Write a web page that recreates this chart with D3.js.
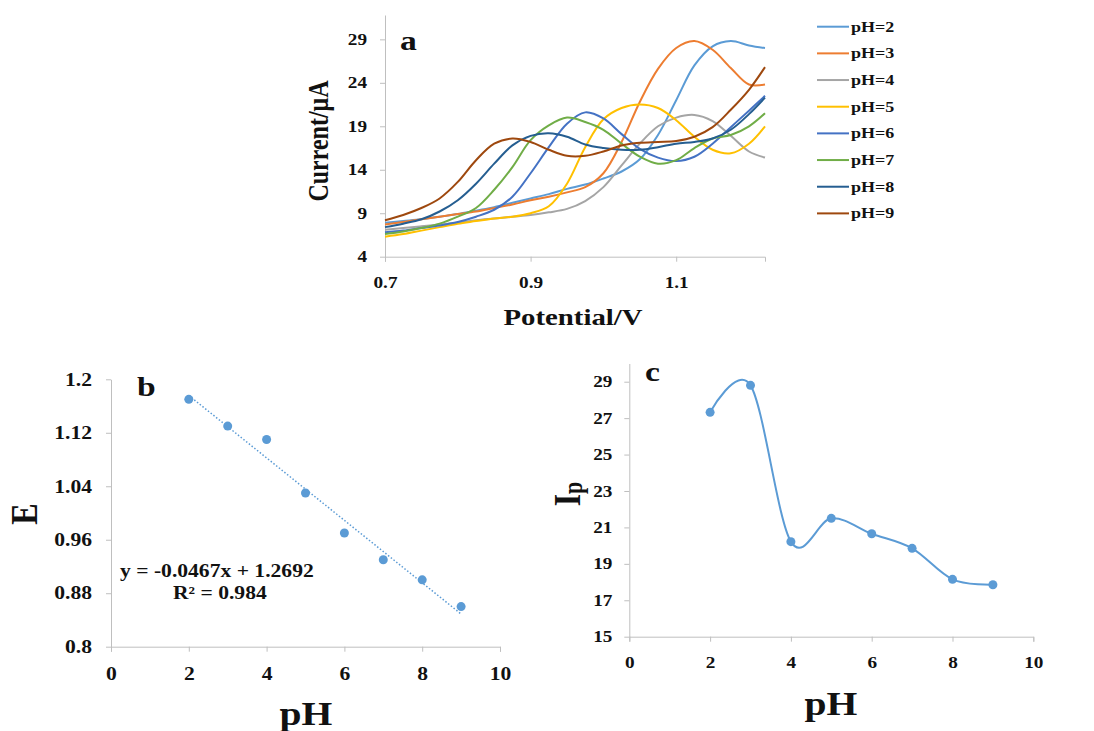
<!DOCTYPE html>
<html>
<head>
<meta charset="utf-8">
<script src="https://cdn.jsdelivr.net/npm/d3@7"></script>
<style>
  html, body { margin: 0; padding: 0; background: #fff; }
  svg { display: block; }
</style>
</head>
<body>
<svg id="fig" width="1094" height="731"></svg>
<script>
// ---- (a) differential pulse voltammograms at several pH values ----
const potential = [0.700, 0.725, 0.750, 0.775, 0.800, 0.825, 0.850, 0.875, 0.900, 0.925, 0.950,
                   0.975, 1.000, 1.025, 1.050, 1.075, 1.100, 1.125, 1.150, 1.175, 1.200, 1.222];
const currentPH2 = [7.9, 8.1, 8.3, 8.6, 8.9, 9.3, 9.7, 10.2, 10.7, 11.2, 11.8, 12.3, 13.0, 13.8, 15.2, 18.0, 22.0, 26.0, 28.2, 28.8, 28.3, 28.0];
const currentPH3 = [7.7, 8.0, 8.3, 8.6, 8.9, 9.2, 9.6, 10.0, 10.5, 10.9, 11.4, 12.0, 13.6, 17.2, 21.8, 25.6, 28.0, 28.8, 27.8, 25.7, 23.8, 23.8];
const currentPH4 = [7.1, 7.3, 7.5, 7.7, 7.9, 8.2, 8.4, 8.6, 8.8, 9.1, 9.5, 10.4, 12.0, 14.5, 17.0, 19.0, 20.0, 20.3, 19.6, 17.9, 16.1, 15.4];
const currentPH5 = [6.3, 6.6, 7.0, 7.4, 7.8, 8.1, 8.4, 8.6, 9.0, 9.8, 12.4, 16.6, 19.8, 21.1, 21.5, 21.1, 19.7, 17.8, 16.3, 15.9, 17.0, 19.0];
const currentPH6 = [6.8, 7.0, 7.3, 7.6, 8.0, 8.6, 9.4, 10.9, 13.6, 16.6, 19.3, 20.6, 19.9, 18.1, 16.4, 15.4, 15.0, 15.5, 17.0, 18.9, 20.8, 22.5];
const currentPH7 = [6.6, 6.9, 7.3, 7.8, 8.6, 9.6, 11.7, 14.3, 17.4, 19.1, 20.0, 19.5, 18.6, 17.0, 15.5, 14.7, 15.1, 16.5, 17.6, 18.0, 19.0, 20.5];
const currentPH8 = [7.4, 7.8, 8.3, 9.2, 10.5, 12.4, 14.7, 16.8, 17.9, 18.2, 17.8, 16.9, 16.5, 16.3, 16.3, 16.6, 17.0, 17.2, 17.6, 18.6, 20.4, 22.3];
const currentPH9 = [8.2, 8.8, 9.6, 10.7, 12.6, 15.1, 17.0, 17.6, 17.2, 16.3, 15.6, 15.6, 16.1, 16.8, 17.1, 17.2, 17.3, 17.8, 18.9, 20.9, 23.2, 25.8];
const seriesNames = ["pH=2", "pH=3", "pH=4", "pH=5", "pH=6", "pH=7", "pH=8", "pH=9"];
const seriesColors = ["#5B9BD5", "#ED7D31", "#A5A5A5", "#FFC000", "#4472C4", "#70AD47", "#255E91", "#9E480E"];
const potentialTicks = [0.7, 0.9, 1.1];
const currentTicks = [4, 9, 14, 19, 24, 29];

// ---- (b) peak potential vs pH with linear fit ----
const phValues = [2, 3, 4, 5, 6, 7, 8, 9];
const peakPotential = [1.170, 1.130, 1.110, 1.030, 0.970, 0.930, 0.900, 0.860];
const fitSlope = -0.0467;
const fitIntercept = 1.2692;
const fitR2 = 0.984;
const eTicks = [0.8, 0.88, 0.96, 1.04, 1.12, 1.2];
const eTickLabels = ["0.8", "0.88", "0.96", "1.04", "1.12", "1.2"];
const phTicks = [0, 2, 4, 6, 8, 10];

// ---- (c) peak current vs pH ----
const peakCurrent = [27.32, 28.8, 20.22, 21.5, 20.65, 19.85, 18.15, 17.85];
const ipTicks = [15, 17, 19, 21, 23, 25, 27, 29];

const currentSeries = [currentPH2, currentPH3, currentPH4, currentPH5, currentPH6, currentPH7, currentPH8, currentPH9];

const SX = 1.2;               // horizontal stretch of the lettering
const FONT = "'Liberation Serif', 'Times New Roman', serif";
const AXIS = "#bfbfbf";
const INK = "#111";

const svg = d3.select("#fig");
svg.append("rect").attr("width", 1094).attr("height", 731).attr("fill", "#fff");

function label(x, y, str, size, anchor, rotate) {
  const t = svg.append("text")
    .attr("transform", `translate(${x},${y}) scale(${SX},1)` + (rotate ? " rotate(-90)" : ""))
    .attr("font-family", FONT).attr("font-weight", "bold")
    .attr("font-size", size).attr("fill", INK)
    .attr("text-anchor", anchor || "start");
  if (str !== null) t.text(str);
  return t;
}

function styleAxis(g, size) {
  g.attr("color", AXIS).attr("font-family", FONT).attr("font-size", size).attr("font-weight", "bold");
  g.selectAll("path.domain, .tick line").attr("stroke", AXIS).attr("stroke-width", 1);
  g.selectAll(".tick text").attr("fill", INK).each(function () {
    const t = d3.select(this);
    const x = +(t.attr("x") || 0);
    t.attr("x", x / SX).attr("transform", `scale(${SX},1)`);
  });
}

// ================= panel a =================
{
  const x = d3.scaleLinear().domain([0.7, 1.222]).range([385, 765]);
  const y = d3.scaleLinear().domain([4, 31.8]).range([256.7, 15]);

  const gx = svg.append("g").attr("transform", `translate(0,${y(4)})`)
    .call(d3.axisBottom(x).tickValues(potentialTicks).tickFormat(d3.format(".1f"))
      .tickSize(5).tickSizeOuter(5).tickPadding(15));
  styleAxis(gx, 16);
  const gy = svg.append("g").attr("transform", `translate(${x(0.7)},0)`)
    .call(d3.axisLeft(y).tickValues(currentTicks).tickSize(5).tickSizeOuter(0).tickPadding(13));
  styleAxis(gy, 16);

  const line = d3.line()
    .x((d, i) => x(potential[i]))
    .y(d => y(d))
    .curve(d3.curveCatmullRom.alpha(0.5));

  svg.append("g").selectAll("path")
    .data(currentSeries)
    .join("path")
    .attr("d", line)
    .attr("fill", "none")
    .attr("stroke", (d, i) => seriesColors[i])
    .attr("stroke-width", 2);

  // legend
  const lg = svg.append("g");
  seriesNames.forEach((name, i) => {
    const cy = 26.7 + i * 26.67;
    lg.append("line").attr("x1", 817).attr("x2", 849).attr("y1", cy).attr("y2", cy)
      .attr("stroke", seriesColors[i]).attr("stroke-width", 2);
    label(851, cy + 5, name, 15, "start");
  });

  label(400, 50, "a", 28, "start");
  label(328, 141, "Current/μA", 24, "middle", true);
  label(573, 325, "Potential/V", 24, "middle");
}

// ================= panel b =================
{
  const x = d3.scaleLinear().domain([0, 10]).range([111, 500]);
  const y = d3.scaleLinear().domain([0.8, 1.2]).range([646.7, 379.3]);

  const gx = svg.append("g").attr("transform", `translate(0,${y(0.8)})`)
    .call(d3.axisBottom(x).tickValues(phTicks).tickSize(5).tickSizeOuter(5).tickPadding(15.5));
  styleAxis(gx, 18);
  const gy = svg.append("g").attr("transform", `translate(${x(0)},0)`)
    .call(d3.axisLeft(y).tickValues(eTicks).tickFormat((d, i) => eTickLabels[i])
      .tickSize(5).tickSizeOuter(0).tickPadding(14));
  styleAxis(gy, 18);

  // linear trendline E = slope * pH + intercept over the measured range
  const x0 = d3.min(phValues), x1 = d3.max(phValues);
  svg.append("line")
    .attr("x1", x(x0)).attr("y1", y(fitSlope * x0 + fitIntercept))
    .attr("x2", x(x1)).attr("y2", y(fitSlope * x1 + fitIntercept))
    .attr("stroke", "#5B9BD5").attr("stroke-width", 1.5)
    .attr("stroke-dasharray", "1.5,2");

  svg.append("g").selectAll("circle")
    .data(peakPotential)
    .join("circle")
    .attr("cx", (d, i) => x(phValues[i]))
    .attr("cy", d => y(d))
    .attr("r", 4.5)
    .attr("fill", "#5B9BD5");

  const sign = fitIntercept >= 0 ? "+" : "-";
  label(120, 577, `y = ${fitSlope.toFixed(4)}x ${sign} ${Math.abs(fitIntercept).toFixed(4)}`, 18, "start");
  label(173, 599, `R² = ${fitR2}`, 18, "start");

  label(137, 396, "b", 28, "start");
  label(37, 514, "E", 32, "middle", true);
  label(306, 725, "pH", 33, "middle");
}

// ================= panel c =================
{
  const x = d3.scaleLinear().domain([0, 10]).range([629.3, 1033.3]);
  const y = d3.scaleLinear().domain([15, 30]).range([636.7, 363.5]);

  const gx = svg.append("g").attr("transform", `translate(0,${y(15)})`)
    .call(d3.axisBottom(x).tickValues(phTicks).tickSize(5).tickSizeOuter(5).tickPadding(15));
  styleAxis(gx, 16);
  const gy = svg.append("g").attr("transform", `translate(${x(0)},0)`)
    .call(d3.axisLeft(y).tickValues(ipTicks).tickSize(5).tickSizeOuter(0).tickPadding(12));
  styleAxis(gy, 16);

  const line = d3.line()
    .x((d, i) => x(phValues[i]))
    .y(d => y(d))
    .curve(d3.curveCardinal.tension(0));

  svg.append("path")
    .datum(peakCurrent)
    .attr("d", line)
    .attr("fill", "none")
    .attr("stroke", "#5B9BD5")
    .attr("stroke-width", 2);

  svg.append("g").selectAll("circle")
    .data(peakCurrent)
    .join("circle")
    .attr("cx", (d, i) => x(phValues[i]))
    .attr("cy", d => y(d))
    .attr("r", 4.5)
    .attr("fill", "#5B9BD5");

  label(645, 381, "c", 28, "start");
  const ip = label(580, 494, null, 32, "middle", true);
  ip.append("tspan").text("I");
  ip.append("tspan").attr("font-size", 22).attr("dy", 2).text("p");
  label(831, 715, "pH", 33, "middle");
}
</script>
</body>
</html>
